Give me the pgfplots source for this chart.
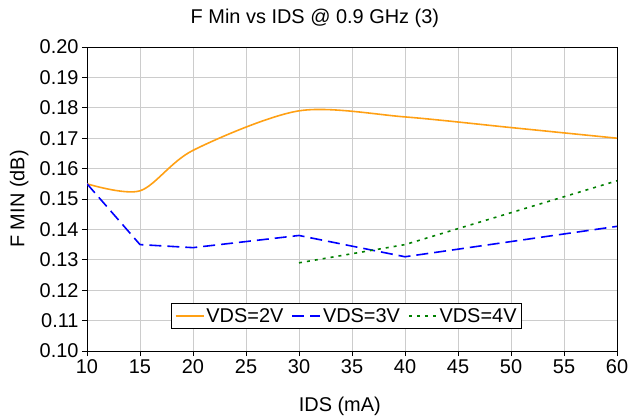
\documentclass[border=0pt]{standalone}
\usepackage{pgfplots}
\pgfplotsset{compat=1.18}
\usepackage{fontspec}
\setmainfont{Liberation Sans}
\definecolor{xlorange}{RGB}{255,160,20}
\definecolor{xlblue}{RGB}{0,0,255}
\definecolor{xlgreen}{RGB}{0,128,0}
\begin{document}
\begin{tikzpicture}
\begin{axis}[
  name=ax,
  scale only axis,
  width=530bp, height=304bp,
  xmin=10, xmax=60, ymin=0.10, ymax=0.20,
  xtick={10,15,...,60},
  ytick={0.10,0.11,...,0.201},
  yticklabel style={/pgf/number format/.cd,fixed,fixed zerofill,precision=2},
  /pgf/number format/assume math mode=true,
  tick label style={font=\fontsize{20}{22}\selectfont},
  label style={font=\fontsize{20}{22}\selectfont},
  every axis title shift=0pt,
  title style={font=\fontsize{20}{22}\selectfont, at={(axis description cs:0.43,1.095)}, anchor=center},
  title={F Min vs IDS @ 0.9 GHz (3)},
  xlabel={IDS (mA)}, ylabel={F MIN (dB)},
  xlabel style={at={(axis description cs:0.477,-0.181)}, anchor=center},
  ylabel style={at={(axis description cs:-0.128,0.5)}, anchor=center},
  grid=major,
  major grid style={gray!40, line width=0.8pt},
  axis line style={line width=1pt},
  tick align=outside,
  tick style={black, line width=0.8pt},
  major tick length=5bp,
  xtick pos=bottom, ytick pos=left,
  legend columns=3,
  legend style={at={(0.49,0.115)}, anchor=center, draw=black, line width=0.8pt,
    font=\fontsize{20}{22}\selectfont, inner sep=3bp,
    /tikz/every even column/.append style={column sep=6bp}},
  legend image code/.code={\draw[#1] (0bp,0bp) -- (28bp,0bp);},
]
\addplot[xlorange, line width=1.6pt, smooth, tension=0.5] coordinates {
  (10,0.155) (15,0.1527) (20,0.166) (30,0.179) (40,0.177) (50,0.1735) (60,0.170)};
\addlegendentry{VDS=2V}
\addplot[xlblue, line width=1.6pt, dash pattern=on 12bp off 6bp] coordinates {
  (10,0.155) (15,0.135) (20,0.134) (30,0.138) (40,0.131) (60,0.141)};
\addlegendentry{VDS=3V}
\addplot[xlgreen, line width=1.6pt, dash pattern=on 3bp off 5bp] coordinates {
  (30,0.129) (40,0.135) (60,0.156)};
\addlegendentry{VDS=4V}
\end{axis}
\pgfresetboundingbox
\useasboundingbox ([shift={(-87bp,-68bp)}]ax.south west) rectangle ([shift={(13bp,47bp)}]ax.north east);
\end{tikzpicture}
\end{document}
